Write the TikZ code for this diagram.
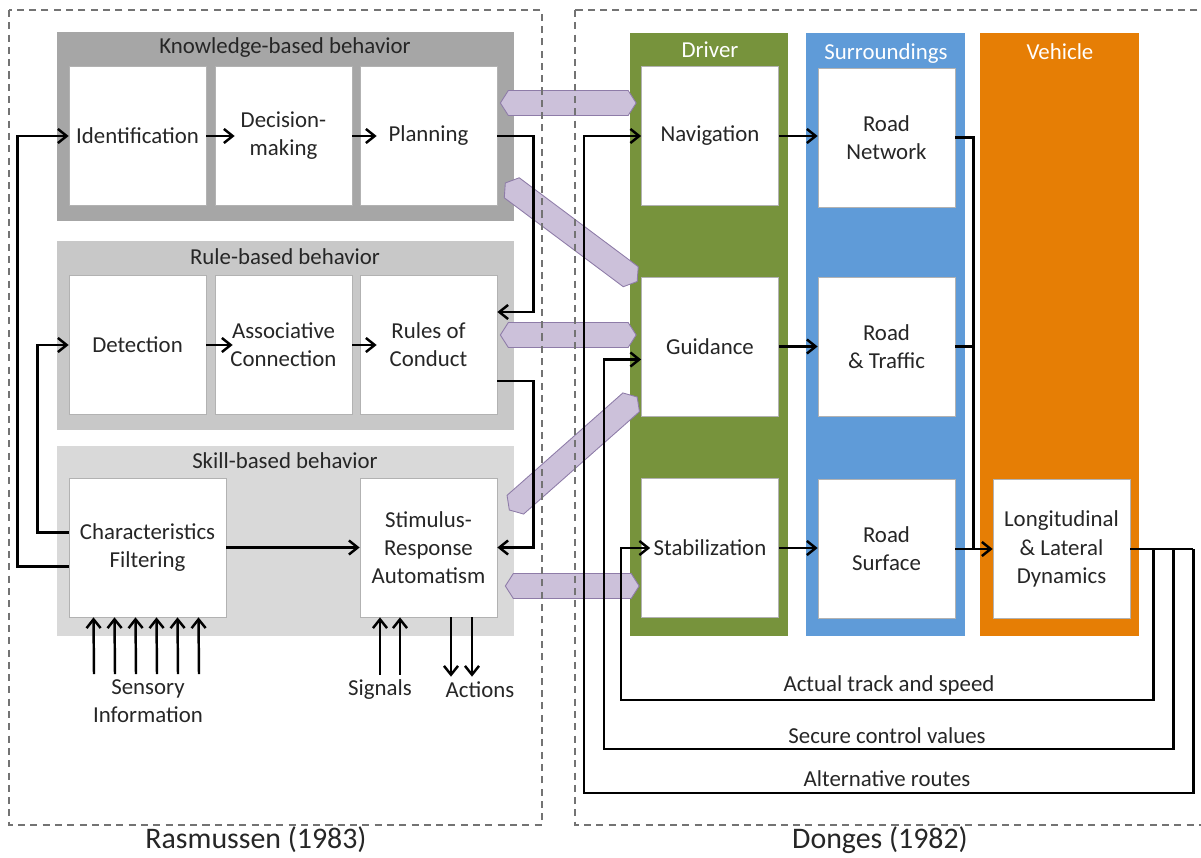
\documentclass[tikz,border=0pt]{standalone}
\usepackage{fontspec}
\setmainfont{Carlito}
\usetikzlibrary{arrows.meta,calc,positioning}

\definecolor{knowgray}{HTML}{A6A6A6}
\definecolor{rulegray}{HTML}{C8C8C8}
\definecolor{skillgray}{HTML}{D9D9D9}
\definecolor{drivergreen}{HTML}{77933C}
\definecolor{surrblue}{HTML}{5F9BD8}
\definecolor{vehorange}{HTML}{E67E05}
\definecolor{linkfill}{HTML}{CCC1DA}
\definecolor{linkdraw}{HTML}{8E7CA8}
\definecolor{inkgray}{HTML}{262626}

\tikzset{
  txt/.style={font=\fontsize{13}{16}\selectfont, align=center, text=inkgray, inner sep=0pt},
  block/.style={txt, draw=gray!60, fill=white, minimum width=2.74cm, minimum height=2.78cm},
  coltitle/.style={txt, text=white},
  flow/.style={-{Straight Barb[length=5pt,width=8pt]}, line width=1.4pt},
  wire/.style={line width=1.4pt},
  frame/.style={draw=gray!90!black, dash pattern=on 4pt off 3pt, line width=0.6pt},
  link/.style={fill=linkfill, draw=linkdraw, line width=0.5pt},
}

% double-ended flat arrow between two named points
\newcommand{\hexlink}[2]{%
  \path ($(#1)!0.16cm!(#2)$) coordinate (hs) ($(#2)!0.16cm!(#1)$) coordinate (he);
  \filldraw[link] (#1) -- ($(hs)!0.25cm!-90:(#2)$) -- ($(he)!0.25cm!90:(#1)$) -- (#2)
    -- ($(he)!0.25cm!-90:(#1)$) -- ($(hs)!0.25cm!90:(#2)$) -- cycle;
}

\begin{document}
\begin{tikzpicture}[x=0.02cm, y=-0.02cm]
  \useasboundingbox (0,0) rectangle (1201,858);

  % Rasmussen layers
  \fill[knowgray] (57,32) rectangle (514,221);
  \fill[rulegray] (57,241) rectangle (514,430);
  \fill[skillgray] (57,446) rectangle (514,636);
  \node[txt] at (285,48) {Knowledge-based behavior};
  \node[txt] at (285,257) {Rule-based behavior};
  \node[txt] at (285,461) {Skill-based behavior};

  % Donges columns
  \fill[drivergreen] (630,33) rectangle (788,636);
  \fill[surrblue] (806,33) rectangle (965,636);
  \fill[vehorange] (980,33) rectangle (1139,636);
  \node[coltitle] at (710,50) {Driver};
  \node[coltitle] at (886,54) {Surroundings};
  \node[coltitle] at (1060,52) {Vehicle};

  \node[block] (ident) at (137.5,136) {Identification};
  \node[block] (decis) at (283.5,136) {Decision-\\making};
  \node[block] (plan) at (428.5,136) {Planning};
  \node[block] (detect) at (137.5,345) {Detection};
  \node[block] (assoc) at (283.5,345) {Associative\\Connection};
  \node[block] (rules) at (428.5,345) {Rules of\\Conduct};
  \node[block, minimum width=3.14cm] (filt) at (147.5,547.5) {Characteristics\\Filtering};
  \node[block] (stim) at (428.5,547.5) {Stimulus-\\Response\\Automatism};

  \node[block] (nav) at (710,136) {Navigation};
  \node[block] (guid) at (710,346.5) {Guidance};
  \node[block] (stab) at (710,548) {Stabilization};
  \node[block] (rnet) at (886.5,137.5) {Road\\Network};
  \node[block] (rtraf) at (886.5,346.5) {Road\\\& Traffic};
  \node[block] (rsurf) at (886.5,549) {Road\\Surface};
  \node[block] (long) at (1061.5,549) {Longitudinal\\\& Lateral\\Dynamics};

  \node[txt] (sens) at (148,701) {Sensory\\Information};
  \node[txt] (sig) at (380,690) {Signals};
  \node[txt] (act) at (480,690) {Actions};

  % links between the two models
  \coordinate (l1a) at ($(plan.east)+(3,-33)$);
  \coordinate (l1b) at ($(nav.west)+(-5,-33)$);
  \coordinate (l2a) at ($(plan.east)+(8,47)$);
  \coordinate (l2b) at ($(guid.west)+(-4,-65)$);
  \coordinate (l3a) at ($(rules.east)+(3,-10)$);
  \coordinate (l3b) at ($(guid.west)+(-5,-11.5)$);
  \coordinate (l4a) at ($(stim.east)+(12,-37.5)$);
  \coordinate (l4b) at ($(guid.west)+(-4,50.5)$);
  \coordinate (l5a) at ($(stim.east)+(8,38.5)$);
  \coordinate (l5b) at ($(stab.west)+(-2,38)$);
  \hexlink{l1a}{l1b}
  \hexlink{l2a}{l2b}
  \hexlink{l3a}{l3b}
  \hexlink{l4a}{l4b}
  \hexlink{l5a}{l5b}

  \draw[frame] (9,10) rectangle (542,825);
  \draw[frame] (575,10) rectangle (1215,825);
  \node[font=\fontsize{17}{20}\selectfont, text=inkgray] at (256,840) {Rasmussen (1983)};
  \node[font=\fontsize{17}{20}\selectfont, text=inkgray] at (880,840) {Donges (1982)};

  % Rasmussen connectors
  \draw[flow] (ident.east) -- ($(decis.west)+(20,0)$);
  \draw[flow] (decis.east) -- ($(plan.west)+(17,0)$);
  \draw[flow] (detect.east) -- ($(assoc.west)+(18,0)$);
  \draw[flow] (assoc.east) -- ($(rules.west)+(17,0)$);
  \draw[flow] (plan.east) -- ++(36,0) |- ($(rules.east)+(0,-33)$);
  \draw[flow] ($(rules.east)+(0,36)$) -- ++(36,0) |- (stim.east);
  \draw[flow] ($(filt.west)+(0,19)$) -| ($(ident.west)+(-51,0)$) -- (ident.west);
  \draw[flow] ($(filt.west)+(0,-15)$) -| ($(detect.west)+(-31,0)$) -- (detect.west);
  \draw[flow] (filt.east) -- (stim.west);
  \foreach \dx in {-54,-33,-12,9,30,51}
    \draw[flow] ($(sens.north)+(\dx,-5)$) -- ($(filt.south)+(\dx,0)$);
  \draw[flow] ($(sig.north)+(0,-5)$) -- (sig.north |- stim.south);
  \draw[flow] ($(sig.north)+(20,-5)$) -- ($(sig.north |- stim.south)+(20,0)$);
  \coordinate (a1) at ($(act.north)+(-29,-5)$);
  \coordinate (a2) at ($(act.north)+(-8,-5)$);
  \draw[flow] (a1 |- stim.south) -- (a1);
  \draw[flow] (a2 |- stim.south) -- (a2);

  % Donges connectors
  \draw[flow] (nav.east) -- (nav.east -| rnet.west);
  \draw[flow] (guid.east) -- (guid.east -| rtraf.west);
  \draw[flow] (stab.east) -- (stab.east -| rsurf.west);
  \coordinate (junc) at ($(rsurf.east)+(18,0)$);
  \draw[wire] (rnet.east) -| (junc);
  \draw[wire] (rtraf.east) -- (rtraf.east -| junc);
  \draw[flow] (rsurf.east) -- (long.west);
  \coordinate (tap1) at ($(long.east)+(23,0)$);
  \coordinate (tap2) at ($(long.east)+(43,0)$);
  \coordinate (tap3) at ($(long.east)+(63,0)$);
  \draw[wire] (long.east) -- (tap3);
  \draw[flow] (tap1) -- ++(0,151) -| ($(stab.west)+(-20,0)$) -- ($(stab.west)+(9,0)$);
  \draw[flow] (tap2) -- ++(0,200) -| ($(guid.west)+(-37,13)$) -- ($(guid.west)+(0,13)$);
  \draw[flow] (tap3) -- ++(0,244) -| ($(nav.west)+(-57,0)$) -- (nav.west);
  \node[txt] at (889,685) {Actual track and speed};
  \node[txt] at (887,736) {Secure control values};
  \node[txt] at (887,779) {Alternative routes};
\end{tikzpicture}
\end{document}
